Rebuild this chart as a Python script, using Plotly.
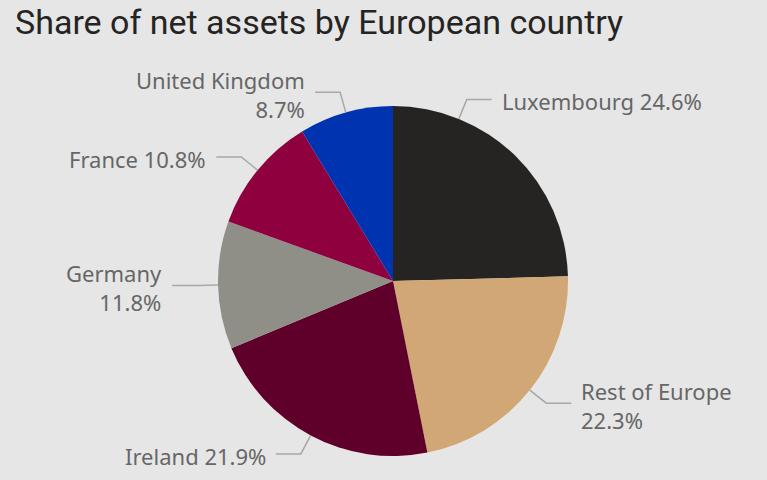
import math
import plotly.graph_objects as go

# Share of net assets (%) by country, clockwise from 12 o'clock
countries = ["Luxembourg", "Rest of Europe", "Ireland", "Germany", "France", "United Kingdom"]
shares = [24.6, 22.3, 21.9, 11.8, 10.8, 8.7]
colors = ["#252423", "#d1a775", "#5f002b", "#8f8f87", "#8f003f", "#0033b0"]

# Label wrapping (Power BI style): which labels break onto two lines
two_line = {"United Kingdom": True, "Germany": True, "Rest of Europe": True}
# Where along each slice the leader line leaves the rim (0..1 of the slice's arc)
anchor_frac = {"Luxembourg": 0.25}

W, H = 767, 480
CX, CY, R = 393, 281, 175          # pie centre and radius in pixels
ELBOW = R + 21                     # radius of the leader-line elbow
ARM = 25                           # horizontal arm length
GAP = 8                            # gap between arm and label text
BG = "#e6e6e6"
LABEL_COLOR = "#666666"
LINE_COLOR = "#a8a8a8"
LABEL_FONT = "Noto Sans"
TITLE_FONT = "Roboto"

fig = go.Figure(
    go.Pie(
        labels=countries,
        values=shares,
        sort=False,
        direction="clockwise",
        rotation=0,
        marker=dict(colors=colors, line=dict(width=0)),
        textinfo="none",
        hoverinfo="label+percent",
        showlegend=False,
        domain=dict(x=[(CX - R) / W, (CX + R) / W], y=[1 - (CY + R) / H, 1 - (CY - R) / H]),
    )
)


def px(x):
    return x / W


def py(y):
    return 1 - y / H


total = sum(shares)
shapes = []
annotations = []
start = 0.0
for name, val in zip(countries, shares):
    span = val / total * 2 * math.pi
    ang = start + span * anchor_frac.get(name, 0.5)
    start += span
    sx, sy = math.sin(ang), -math.cos(ang)
    x0, y0 = CX + R * sx, CY + R * sy
    x1, y1 = CX + ELBOW * sx, CY + ELBOW * sy
    right = sx > 0
    x2 = x1 + ARM if right else x1 - ARM
    path = f"M {px(x0)} {py(y0)} L {px(x1)} {py(y1)} L {px(x2)} {py(y1)}"
    shapes.append(dict(type="path", xref="paper", yref="paper", path=path,
                       line=dict(color=LINE_COLOR, width=1.5)))
    pct = f"{val:.1f}%"
    text = f"{name}<br>{pct}" if two_line.get(name) else f"{name} {pct}"
    annotations.append(dict(
        x=px(x2 + GAP if right else x2 - GAP), y=py(y1 + 2),
        xref="paper", yref="paper",
        xanchor="left" if right else "right", yanchor="middle",
        align="left" if right else "right",
        text=text, showarrow=False,
        font=dict(family=LABEL_FONT, size=22, color=LABEL_COLOR),
    ))

# Chart title, top-left
annotations.append(dict(
    x=px(13), y=py(0), xref="paper", yref="paper",
    xanchor="left", yanchor="top", showarrow=False,
    text="Share of net assets by European country",
    font=dict(family=TITLE_FONT, size=34, color="#252423"),
))

fig.update_layout(
    width=W, height=H,
    margin=dict(l=0, r=0, t=0, b=0),
    paper_bgcolor=BG, plot_bgcolor=BG,
    shapes=shapes,
    annotations=annotations,
)

fig.write_html("out.html")
